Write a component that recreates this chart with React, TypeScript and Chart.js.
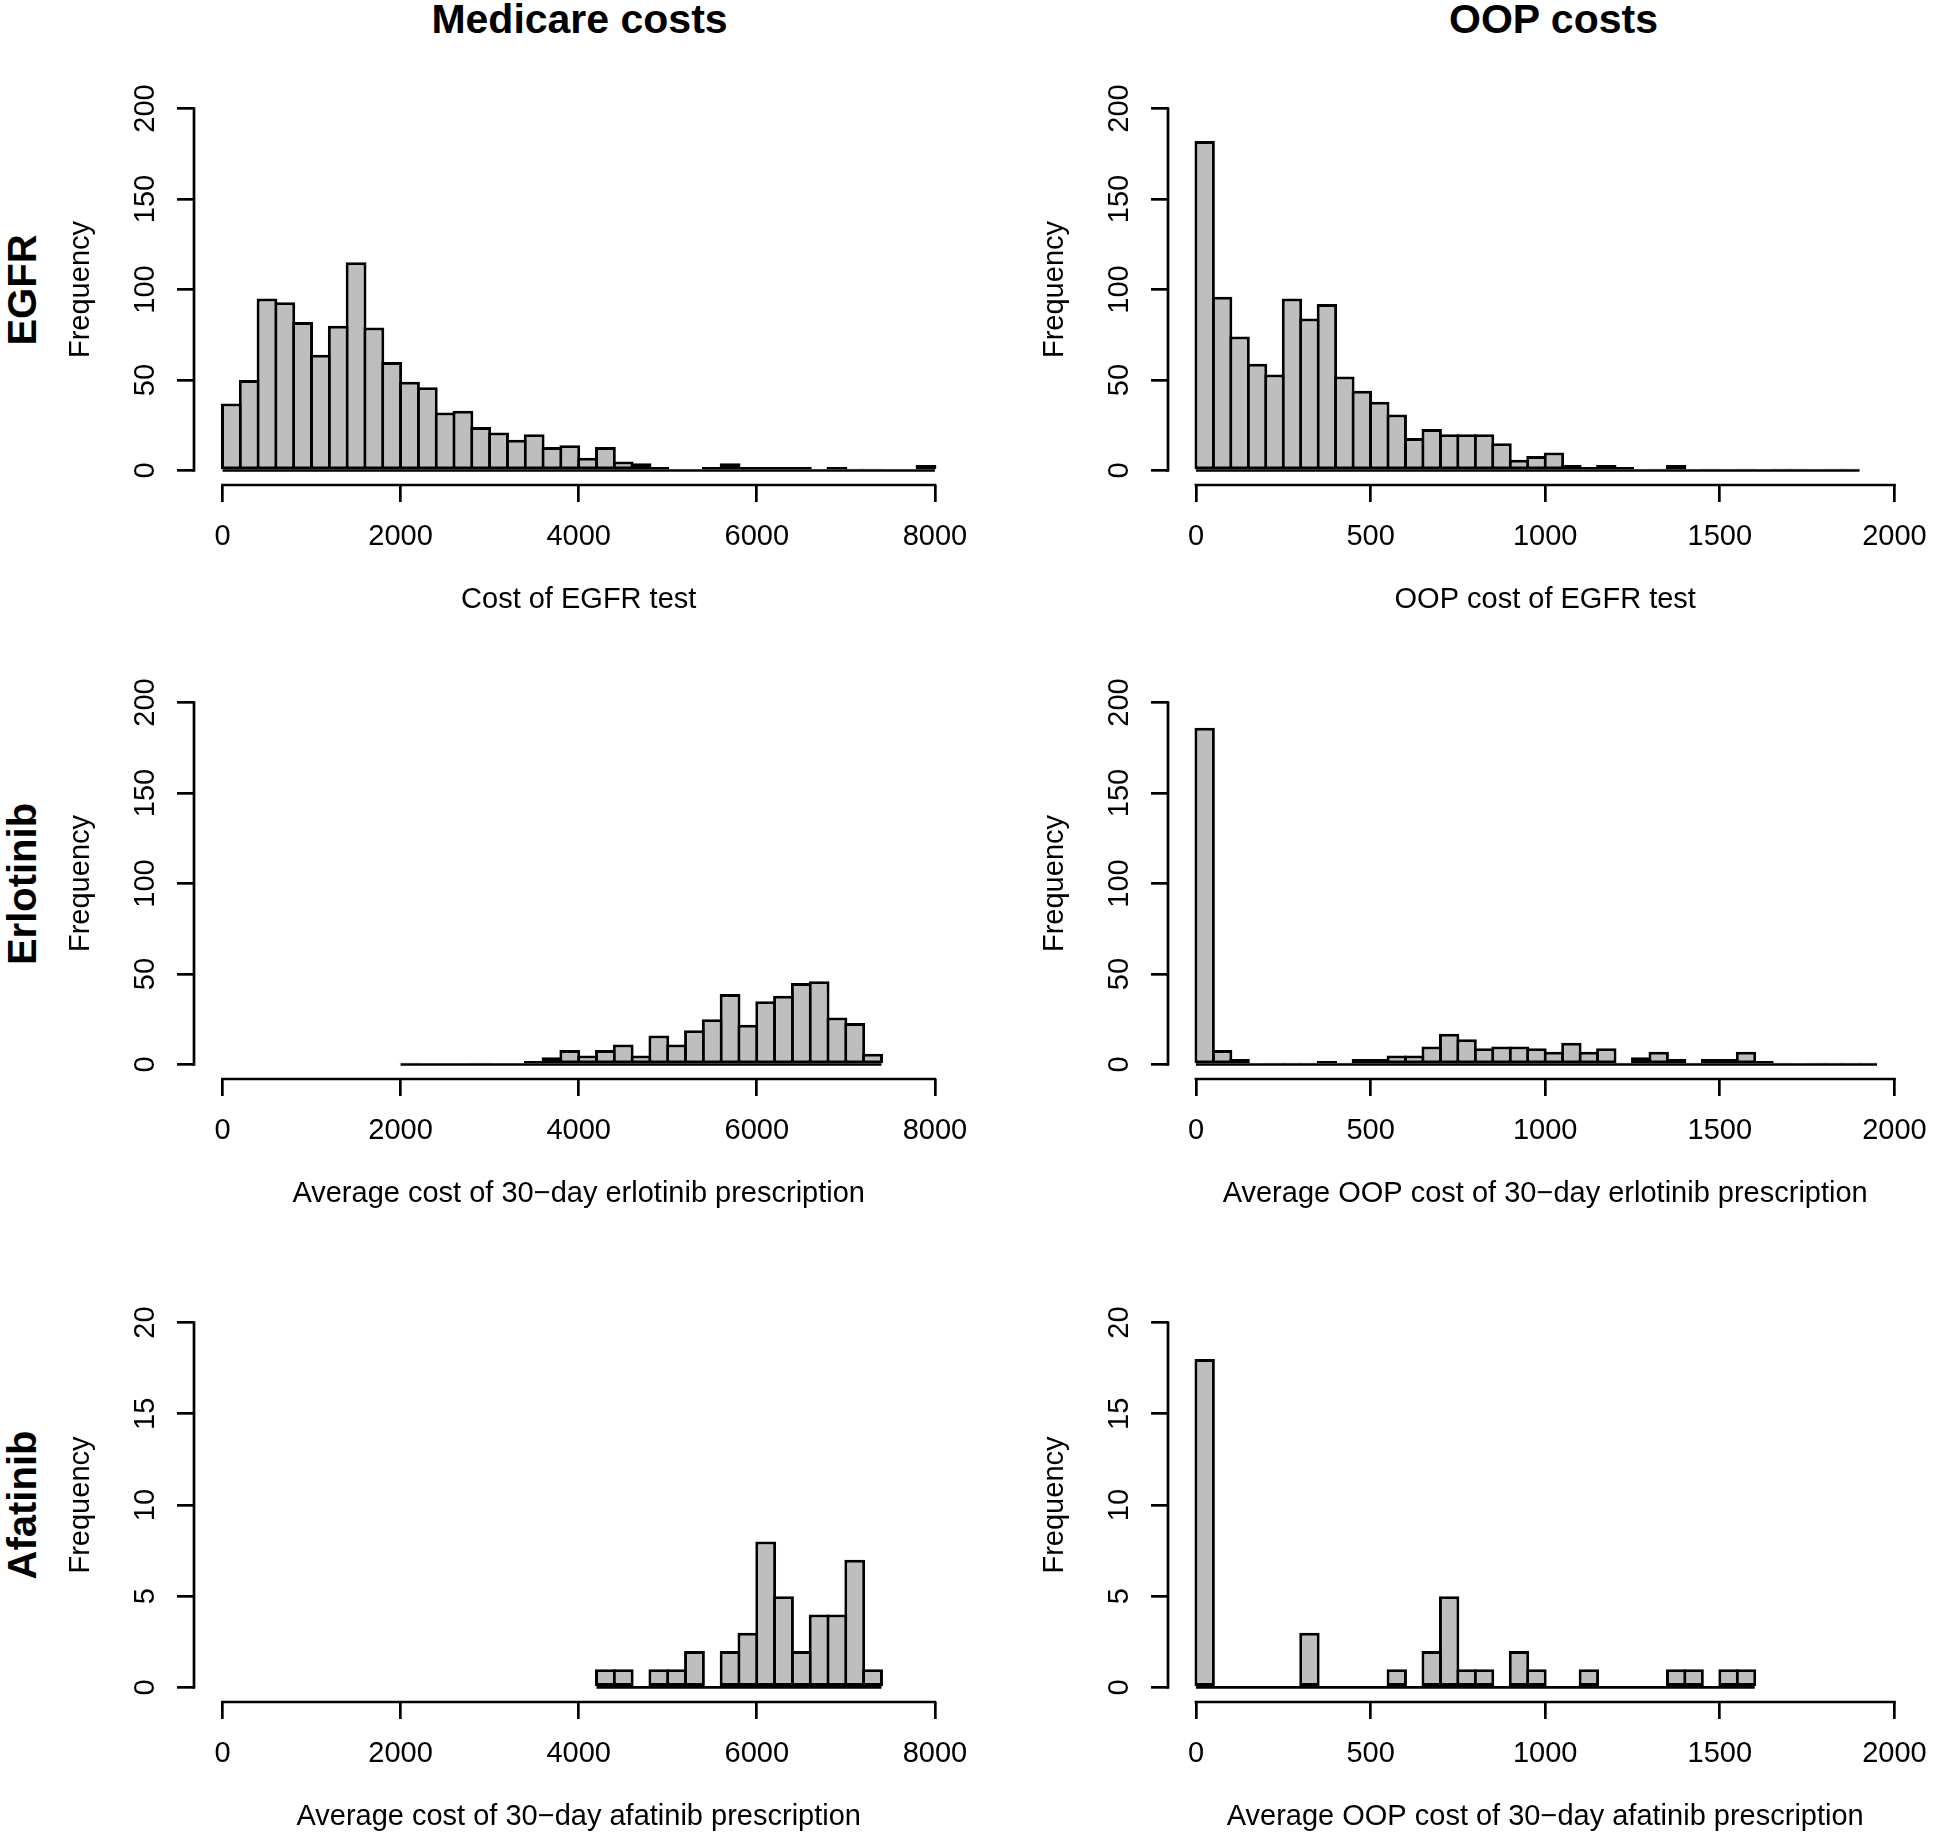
import React, { useEffect, useRef } from "react";
import { Chart, registerables } from "chart.js";

Chart.register(...registerables);

const FONT = "'Liberation Sans', Arial, Helvetica, sans-serif";
const FS = 29;
const LW = 2.7; // axis lines
const BW = 3.0; // bar outlines

// ---------------- data ----------------
const colTitles = ["Medicare costs", "OOP costs"];
const rowLabels = ["EGFR", "Erlotinib", "Afatinib"];

const medicareTicks = [0, 2000, 4000, 6000, 8000];
const oopTicks = [0, 500, 1000, 1500, 2000];
const freqTicksLarge = [0, 50, 100, 150, 200];
const freqTicksSmall = [0, 5, 10, 15, 20];

// EGFR – Medicare (breaks from 0 by 200)
const egfrMedicareStart = 0;
const egfrMedicareBin = 200;
const egfrMedicareCounts = [
  37, 50, 95, 93, 82, 64, 80, 115, 79, 60, 49, 46, 32, 33, 24, 21, 17, 20, 13, 14,
  7, 13, 5, 4, 2, 0, 0, 2, 4, 2, 2, 2, 2, 0, 2, 1, 1, 0, 0, 3,
];

// EGFR – OOP (breaks from 0 by 50)
const egfrOopStart = 0;
const egfrOopBin = 50;
const egfrOopCounts = [
  182, 96, 74, 59, 53, 95, 84, 92, 52, 44, 38, 31, 18, 23, 20, 20, 20, 15, 6, 8,
  10, 3, 2, 3, 2, 0, 1, 3, 0, 1, 0, 1, 0, 1, 1, 0, 1, 1,
];

// Erlotinib – Medicare (breaks from 2000 by 200)
const erloMedicareStart = 2000;
const erloMedicareBin = 200;
const erloMedicareCounts = [
  1, 0, 0, 0, 1, 0, 0, 2, 4, 8, 5, 8, 11, 5, 16, 11, 19, 25, 39, 22, 35, 38, 45, 46,
  26, 23, 6,
];

// Erlotinib – OOP (breaks from 0 by 50)
const erloOopStart = 0;
const erloOopBin = 50;
const erloOopCounts = [
  186, 8, 3, 0, 1, 1, 1, 2, 1, 3, 3, 5, 5, 10, 17, 14, 9, 10, 10, 9, 7, 12, 7, 9, 1,
  4, 7, 3, 1, 3, 3, 7, 2, 1, 0, 1, 1, 1, 1,
];

// Afatinib – Medicare (breaks from 4200 by 200)
const afaMedicareStart = 4200;
const afaMedicareBin = 200;
const afaMedicareCounts = [1, 1, 0, 1, 1, 2, 0, 2, 3, 8, 5, 2, 4, 4, 7, 1];

// Afatinib – OOP (breaks from 0 by 50)
const afaOopStart = 0;
const afaOopBin = 50;
const afaOopCounts = [
  18, 0, 0, 0, 0, 0, 3, 0, 0, 0, 0, 1, 0, 2, 5, 1, 1, 0, 2, 1, 0, 0, 1, 0, 0, 0, 0,
  1, 1, 0, 1, 1,
];

const xTitles = [
  ["Cost of EGFR test", "OOP cost of EGFR test"],
  [
    "Average cost of 30\u2212day erlotinib prescription",
    "Average OOP cost of 30\u2212day erlotinib prescription",
  ],
  [
    "Average cost of 30\u2212day afatinib prescription",
    "Average OOP cost of 30\u2212day afatinib prescription",
  ],
];

// ---------------- layout ----------------
const YW = 140; // width of y scale box
const XH = 133; // height of x scale box
const ROWS = [
  { plotTop: 94, plotBottom: 485, canvasTop: 50 },
  { plotTop: 688, plotBottom: 1079, canvasTop: 630 },
  { plotTop: 1308, plotBottom: 1702, canvasTop: 1240 },
];
const COLS = [
  { plotLeft: 194, plotRight: 965, padRight: 20 },
  { plotLeft: 1168, plotRight: 1939, padRight: 5 },
];

type PanelDef = {
  row: number;
  col: number;
  start: number;
  bin: number;
  counts: number[];
  xTicks: number[];
  yTicks: number[];
  xTitle: string;
};

const panels: PanelDef[] = [
  { row: 0, col: 0, start: egfrMedicareStart, bin: egfrMedicareBin, counts: egfrMedicareCounts, xTicks: medicareTicks, yTicks: freqTicksLarge, xTitle: xTitles[0][0] },
  { row: 0, col: 1, start: egfrOopStart, bin: egfrOopBin, counts: egfrOopCounts, xTicks: oopTicks, yTicks: freqTicksLarge, xTitle: xTitles[0][1] },
  { row: 1, col: 0, start: erloMedicareStart, bin: erloMedicareBin, counts: erloMedicareCounts, xTicks: medicareTicks, yTicks: freqTicksLarge, xTitle: xTitles[1][0] },
  { row: 1, col: 1, start: erloOopStart, bin: erloOopBin, counts: erloOopCounts, xTicks: oopTicks, yTicks: freqTicksLarge, xTitle: xTitles[1][1] },
  { row: 2, col: 0, start: afaMedicareStart, bin: afaMedicareBin, counts: afaMedicareCounts, xTicks: medicareTicks, yTicks: freqTicksSmall, xTitle: xTitles[2][0] },
  { row: 2, col: 1, start: afaOopStart, bin: afaOopBin, counts: afaOopCounts, xTicks: oopTicks, yTicks: freqTicksSmall, xTitle: xTitles[2][1] },
];

function measure(text: string): number {
  const c = document.createElement("canvas");
  const ctx = c.getContext("2d")!;
  ctx.font = `${FS}px ${FONT}`;
  return ctx.measureText(text).width;
}

const rAxesPlugin = {
  id: "rAxes",
  afterDraw(chart: any) {
    const { ctx } = chart;
    const xs = chart.scales.x;
    const ys = chart.scales.y;
    const xt = xs.ticks;
    const yt = ys.ticks;
    ctx.save();
    ctx.strokeStyle = "#000";
    ctx.lineWidth = LW;
    ctx.lineCap = "square";
    ctx.beginPath();
    const yPix = xs.top;
    ctx.moveTo(xs.getPixelForValue(xt[0].value), yPix);
    ctx.lineTo(xs.getPixelForValue(xt[xt.length - 1].value), yPix);
    const xPix = ys.right;
    ctx.moveTo(xPix, ys.getPixelForValue(yt[0].value));
    ctx.lineTo(xPix, ys.getPixelForValue(yt[yt.length - 1].value));
    ctx.stroke();
    ctx.restore();
  },
};

function Panel({ p }: { p: PanelDef }) {
  const ref = useRef<HTMLCanvasElement>(null);
  const row = ROWS[p.row];
  const col = COLS[p.col];
  const left = col.plotLeft - YW;
  const width = col.plotRight + col.padRight - left;
  const top = row.canvasTop;
  const padTop = row.plotTop - row.canvasTop;
  const height = padTop + (row.plotBottom - row.plotTop) + XH;

  useEffect(() => {
    if (!ref.current) return;
    const xLo = p.xTicks[0];
    const xHi = p.xTicks[p.xTicks.length - 1];
    const yLo = p.yTicks[0];
    const yHi = p.yTicks[p.yTicks.length - 1];
    const xr = xHi - xLo;
    const yr = yHi - yLo;
    const bars = p.counts.map((c, i) => ({ x: p.start + (i + 0.5) * p.bin, y: c }));
    const end = p.start + p.counts.length * p.bin;
    const plotW = col.plotRight - col.plotLeft;
    const binPx = (p.bin / (xr * 1.08)) * plotW;
    const widest = Math.max(...p.yTicks.map((v) => measure(String(v))));
    const yPad = 48 - 17 - widest / 2;
    const font = { family: FONT, size: FS };

    const chart = new Chart(ref.current, {
      type: "bar",
      data: {
        datasets: [
          {
            type: "line",
            data: [
              { x: p.start, y: 0 },
              { x: end, y: 0 },
            ],
            borderColor: "#000",
            borderWidth: LW,
            pointRadius: 0,
            order: 0,
          } as any,
          {
            type: "bar",
            data: bars,
            backgroundColor: "#BEBEBE",
            borderColor: "#000",
            borderWidth: BW,
            borderSkipped: false,
            barPercentage: 1 + BW / binPx,
            categoryPercentage: 1,
            grouped: false,
            order: 1,
          } as any,
        ],
      },
      options: {
        animation: false,
        responsive: false,
        devicePixelRatio: 1,
        events: [],
        layout: { padding: { left: 0, right: col.padRight, top: padTop, bottom: 0 } },
        plugins: { legend: { display: false }, tooltip: { enabled: false } },
        scales: {
          x: {
            type: "linear",
            bounds: "data",
            min: xLo - 0.04 * xr,
            max: xHi + 0.04 * xr,
            offset: false,
            afterBuildTicks: (s: any) => {
              s.ticks = p.xTicks.map((v) => ({ value: v }));
            },
            afterFit: (s: any) => {
              s.height = XH;
            },
            border: { display: false },
            grid: {
              display: true,
              offset: false,
              drawOnChartArea: false,
              drawTicks: true,
              tickLength: 17,
              tickWidth: LW,
              tickColor: "#000",
              color: "#000",
              lineWidth: LW,
            },
            ticks: {
              font,
              color: "#000",
              padding: 17.1,
              minRotation: 0,
              maxRotation: 0,
              autoSkip: false,
              callback: (v: any) => String(v),
            },
            title: {
              display: true,
              text: p.xTitle,
              font,
              color: "#000",
              padding: { top: 0, bottom: 0.6 },
            },
          },
          y: {
            type: "linear",
            bounds: "data",
            min: yLo - 0.04 * yr,
            max: yHi + 0.04 * yr,
            afterBuildTicks: (s: any) => {
              s.ticks = p.yTicks.map((v) => ({ value: v }));
            },
            afterFit: (s: any) => {
              s.width = YW;
            },
            border: { display: false },
            grid: {
              display: true,
              drawOnChartArea: false,
              drawTicks: true,
              tickLength: 17,
              tickWidth: LW,
              tickColor: "#000",
              color: "#000",
              lineWidth: LW,
            },
            ticks: {
              font,
              color: "#000",
              padding: yPad,
              minRotation: 90,
              maxRotation: 90,
              crossAlign: "center",
              autoSkip: false,
              callback: (v: any) => String(v),
            },
            title: {
              display: true,
              text: "Frequency",
              font,
              color: "#000",
              padding: { top: 9.6, bottom: 0 },
            },
          },
        },
      } as any,
      plugins: [rAxesPlugin],
    });
    return () => chart.destroy();
  }, []);

  return (
    <canvas
      ref={ref}
      width={width}
      height={height}
      style={{ position: "absolute", left, top, width, height }}
    />
  );
}

export default function App() {
  return (
    <div
      style={{
        position: "absolute",
        left: 0,
        top: 0,
        width: 1944,
        height: 1835,
        background: "#fff",
        overflow: "hidden",
      }}
    >
      {colTitles.map((t, i) => (
        <div
          key={t}
          style={{
            position: "absolute",
            left: (COLS[i].plotLeft + COLS[i].plotRight) / 2,
            top: 19,
            transform: "translate(-50%, -50%)",
            font: `bold 41px ${FONT}`,
            lineHeight: 1,
            whiteSpace: "nowrap",
            color: "#000",
          }}
        >
          {t}
        </div>
      ))}
      {rowLabels.map((t, i) => (
        <div
          key={t}
          style={{
            position: "absolute",
            left: 22,
            top: (ROWS[i].plotTop + ROWS[i].plotBottom) / 2,
            transform: "translate(-50%, -50%) rotate(-90deg)",
            font: `bold 40px ${FONT}`,
            lineHeight: 1,
            whiteSpace: "nowrap",
            color: "#000",
          }}
        >
          {t}
        </div>
      ))}
      {panels.map((p) => (
        <Panel key={`${p.row}-${p.col}`} p={p} />
      ))}
    </div>
  );
}
